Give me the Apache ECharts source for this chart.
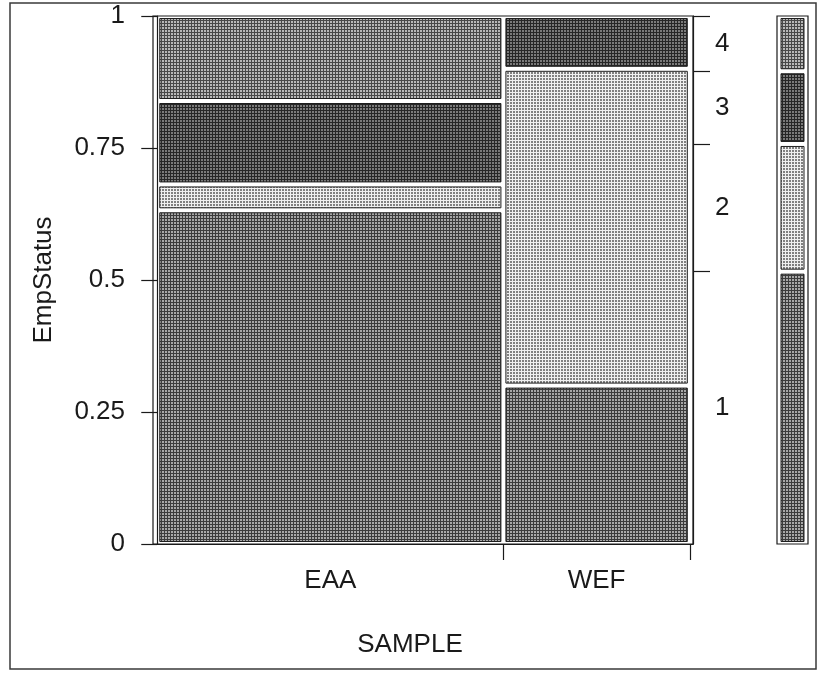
<!DOCTYPE html>
<html>
<head>
<meta charset="utf-8">
<script src="https://cdn.jsdelivr.net/npm/echarts@6/dist/echarts.min.js"></script>
<style>
  html, body { margin: 0; padding: 0; background: #fff; }
  #chart { width: 817px; height: 673px; }
</style>
</head>
<body>
<div id="chart"></div>
<script>
// Mosaic of employment status (EmpStatus) within each sample
const samples = ['EAA', 'WEF'];
const sampleShare = [0.65, 0.35];           // column widths (share of all cases)
const statusLevels = ['1', '2', '3', '4'];
const eaaStatus = [0.632, 0.049, 0.158, 0.161]; // conditional proportions, bottom to top
const wefStatus = [0.300, 0.600, 0.100, 0.000];
const yTicks = [0, 0.25, 0.5, 0.75, 1];

const statusBySample = [eaaStatus, wefStatus];
const FONT = '"Liberation Sans", Arial, Helvetica, sans-serif';
const INK = '#1a1a1a';

// halftone-like fills for the four status levels
function dotPattern(bg, dot) {
  const c = document.createElement('canvas');
  c.width = 3; c.height = 3;
  const g = c.getContext('2d');
  g.fillStyle = bg; g.fillRect(0, 0, 3, 3);
  g.fillStyle = dot; g.fillRect(0, 0, 2, 2);
  return { image: c, repeat: 'repeat' };
}
const levelFill = [
  dotPattern('#3c3c3c', '#a8a8a8'),
  dotPattern('#f0f0f0', '#808080'),
  dotPattern('#262626', '#7a7a7a'),
  dotPattern('#484848', '#b8b8b8')
];

// tiles: [x0, x1, y0, y1, level]
const tiles = [];
const xBounds = [];
let xc = 0;
samples.forEach((s, i) => {
  const x0 = xc, x1 = xc + sampleShare[i];
  let yc = 0;
  statusBySample[i].forEach((p, j) => {
    if (p > 0) tiles.push([x0, x1, yc, yc + p, j]);
    yc += p;
  });
  xBounds.push(x1);
  xc = x1;
});
const xMids = sampleShare.map((w, i) => xBounds[i] - w / 2);

// marginal distribution of status over both samples
const marginal = statusLevels.map((_, j) =>
  statusBySample.reduce((acc, arr, i) => acc + sampleShare[i] * arr[j], 0));
const margTiles = [];
const margBounds = [];
const margMids = [];
let mc = 0;
marginal.forEach((p, j) => {
  margTiles.push([0, 1, mc, mc + p, j]);
  margMids.push(mc + p / 2);
  mc += p;
  margBounds.push(mc);
});

function nearestIndex(list, v) {
  let best = 0;
  list.forEach((m, i) => { if (Math.abs(m - v) < Math.abs(list[best] - v)) best = i; });
  return best;
}

function tileRenderer(gap, gapX) {
  return function (params, api) {
    const x0 = api.value(0), x1 = api.value(1), y0 = api.value(2), y1 = api.value(3);
    const lvl = api.value(4);
    const a = api.coord([x0, y1]);
    const b = api.coord([x1, y0]);
    const gx = gapX == null ? gap : gapX;
    const w = b[0] - a[0] - 2 * gx;
    const h = b[1] - a[1] - 2 * gap;
    if (h <= 0 || w <= 0) return null;
    return {
      type: 'rect',
      shape: { x: a[0] + gx, y: a[1] + gap, width: w, height: h },
      style: { fill: levelFill[lvl], stroke: '#1e1e1e', lineWidth: 1 }
    };
  };
}

const labelStyle = { color: INK, fontFamily: FONT, fontSize: 26 };
const axisLine = { show: true, lineStyle: { color: INK, width: 1.2 } };
const axisTickLine = { color: INK, width: 1.2 };

const chart = echarts.init(document.getElementById('chart'), null, { renderer: 'canvas' });
chart.setOption({
  animation: false,
  backgroundColor: '#fff',
  textStyle: { fontFamily: FONT },
  graphic: [{
    type: 'rect', silent: true,
    shape: { x: 10, y: 3, width: 806, height: 666 },
    style: { fill: 'none', stroke: '#3a3a3a', lineWidth: 1.5 }
  }],
  grid: [
    { left: 153, top: 16, width: 540, height: 528, show: true, borderColor: INK, borderWidth: 1.2, backgroundColor: 'transparent' },
    { left: 777, top: 16, width: 31, height: 528, show: true, borderColor: INK, borderWidth: 1.2, backgroundColor: 'transparent' }
  ],
  xAxis: [
    {
      type: 'value', gridIndex: 0, min: -0.008, max: 1.006,
      axisLine: axisLine,
      axisTick: { show: true, length: 16, customValues: xBounds, lineStyle: axisTickLine },
      axisLabel: { ...labelStyle, margin: 24, customValues: xMids,
        formatter: v => samples[nearestIndex(xMids, v)] },
      splitLine: { show: false },
      name: 'SAMPLE', nameLocation: 'middle', nameGap: 88,
      nameTextStyle: { ...labelStyle, padding: [0, 26, 0, 0] }
    },
    { type: 'value', gridIndex: 1, min: 0, max: 1, show: false }
  ],
  yAxis: [
    {
      type: 'value', gridIndex: 0, position: 'left', min: 0, max: 1, interval: 0.25,
      axisLine: axisLine,
      axisTick: { show: true, length: 16, lineStyle: axisTickLine },
      axisLabel: { ...labelStyle, margin: 28, formatter: v => String(v),
        customValues: yTicks },
      splitLine: { show: false },
      name: 'EmpStatus', nameLocation: 'middle', nameGap: 96,
      nameTextStyle: { ...labelStyle }
    },
    {
      type: 'value', gridIndex: 0, position: 'right', min: 0, max: 1,
      axisLine: axisLine,
      axisTick: { show: true, length: 17, customValues: margBounds, lineStyle: axisTickLine },
      axisLabel: { ...labelStyle, margin: 22, customValues: margMids,
        formatter: v => statusLevels[nearestIndex(margMids, v)] },
      splitLine: { show: false }
    },
    { type: 'value', gridIndex: 1, min: 0, max: 1, show: false }
  ],
  series: [
    {
      type: 'custom', name: 'EmpStatus by SAMPLE',
      xAxisIndex: 0, yAxisIndex: 0,
      renderItem: tileRenderer(2.5),
      encode: { x: [0, 1], y: [2, 3] },
      data: tiles, silent: true
    },
    {
      type: 'custom', name: 'EmpStatus overall',
      xAxisIndex: 1, yAxisIndex: 2,
      renderItem: tileRenderer(2.5, 4),
      encode: { x: [0, 1], y: [2, 3] },
      data: margTiles, silent: true
    }
  ]
});
</script>
</body>
</html>
